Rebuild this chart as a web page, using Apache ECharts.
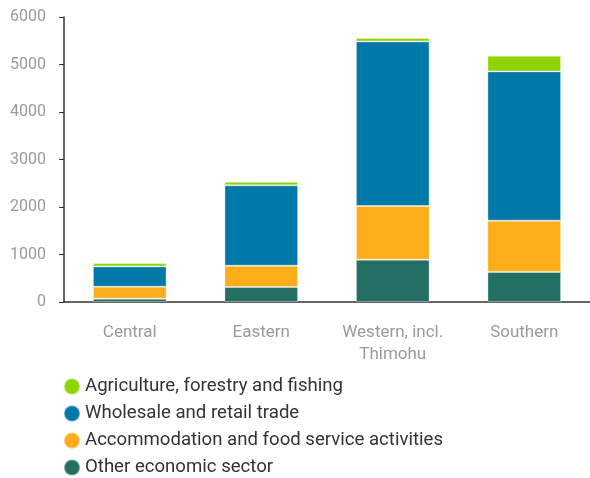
<!DOCTYPE html>
<html>
<head>
<meta charset="utf-8">
<script src="https://cdn.jsdelivr.net/npm/echarts@6/dist/echarts.min.js"></script>
<style>html,body{margin:0;padding:0;background:#fff}#c{width:590px;height:478px}</style>
</head>
<body>
<div id="c"></div>
<script>
const categories = ['Central', 'Eastern', 'Western, incl.\nThimohu', 'Southern'];
const other = [70, 316, 891, 632];
const accommodation = [252, 448, 1130, 1080];
const wholesale = [428, 1692, 3465, 3143];
const agriculture = [71, 75, 72, 330];
const yTicks = [0, 1000, 2000, 3000, 4000, 5000, 6000];

const FONT = 'Roboto';
const chart = echarts.init(document.getElementById('c'));
const mk = (name, data, color) => ({
  name, type: 'bar', stack: 'total', data, barWidth: '56%',
  itemStyle: { color, borderColor: 'rgba(255,255,255,0.35)', borderWidth: 1 }
});
chart.setOption({
  animation: false,
  textStyle: { fontFamily: FONT },
  grid: { left: 64, right: -8, top: 17, bottom: 176, containLabel: false },
  xAxis: {
    type: 'category', data: categories,
    axisLine: { lineStyle: { color: '#333', width: 1.5 } },
    axisTick: { show: false },
    axisLabel: { color: '#9a9a9a', fontSize: 17, margin: 20, lineHeight: 22, fontFamily: FONT }
  },
  yAxis: {
    type: 'value', min: yTicks[0], max: yTicks[yTicks.length - 1], interval: 1000,
    axisLine: { show: true, lineStyle: { color: '#333', width: 1.5 } },
    axisTick: { show: true, length: 5, lineStyle: { color: '#333' } },
    splitLine: { show: false },
    axisLabel: { color: '#9a9a9a', fontSize: 16, margin: 18, fontFamily: FONT, formatter: v => String(v) }
  },
  legend: {
    orient: 'vertical', left: 63, top: 377, itemGap: 8, padding: 0, height: 200,
    icon: 'circle', itemWidth: 16, itemHeight: 16,
    textStyle: { fontSize: 18.6, color: '#333', fontFamily: FONT },
    data: ['Agriculture, forestry and fishing', 'Wholesale and retail trade', 'Accommodation and food service activities', 'Other economic sector']
  },
  series: [
    mk('Other economic sector', other, '#236F63'),
    mk('Accommodation and food service activities', accommodation, '#FBAE19'),
    mk('Wholesale and retail trade', wholesale, '#0079A8'),
    mk('Agriculture, forestry and fishing', agriculture, '#8FD400')
  ]
});
</script>
</body>
</html>
